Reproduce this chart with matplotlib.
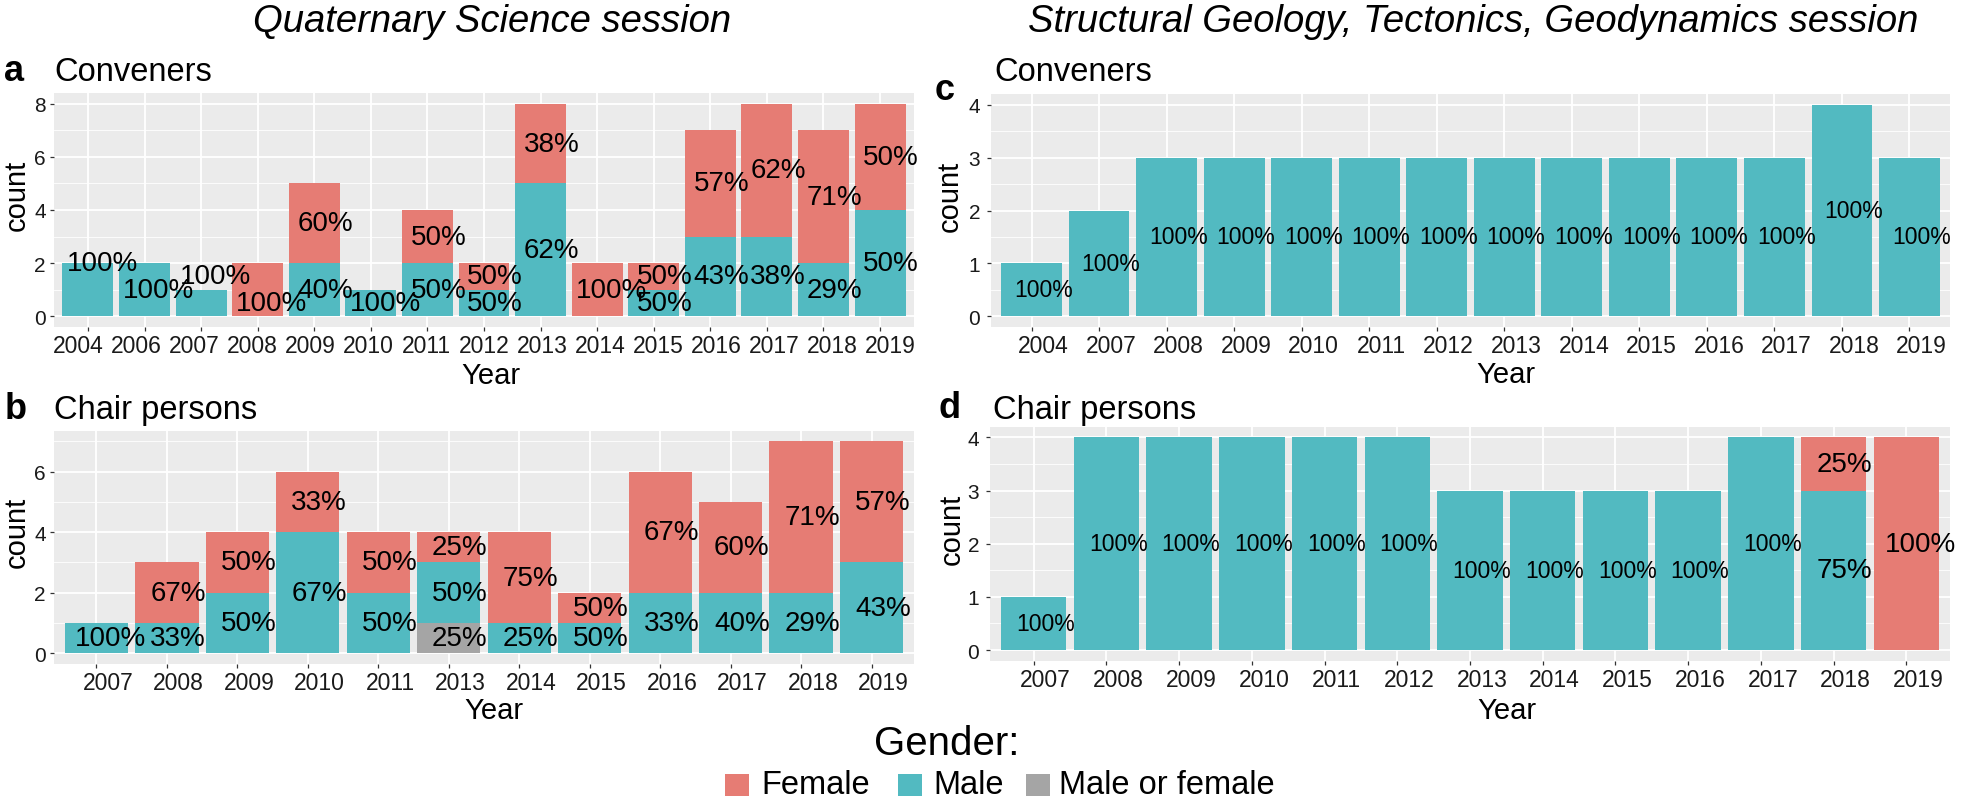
import matplotlib
matplotlib.use("Agg")
import matplotlib.pyplot as plt
from matplotlib.patches import Rectangle
from matplotlib.ticker import MultipleLocator
from matplotlib.transforms import ScaledTranslation
import numpy as np

# ---- data ----
conv_q_years = ["2004", "2006", "2007", "2008", "2009", "2010", "2011", "2012",
                "2013", "2014", "2015", "2016", "2017", "2018", "2019"]
conv_q_male = [2, 2, 1, 0, 2, 1, 2, 1, 5, 0, 1, 3, 3, 2, 4]
conv_q_female = [0, 0, 0, 2, 3, 0, 2, 1, 3, 2, 1, 4, 5, 5, 4]
conv_q_other = [0] * 15
# labels in the original that sit off their segment centre (count units)
conv_q_label_shift = {"2004": 1.0, "2007": 1.0, "2008": -0.5}

chair_q_years = ["2007", "2008", "2009", "2010", "2011", "2013", "2014",
                 "2015", "2016", "2017", "2018", "2019"]
chair_q_male = [1, 1, 2, 4, 2, 2, 1, 1, 2, 2, 2, 3]
chair_q_female = [0, 2, 2, 2, 2, 1, 3, 1, 4, 3, 5, 4]
chair_q_other = [0, 0, 0, 0, 0, 1, 0, 0, 0, 0, 0, 0]

conv_s_years = ["2004", "2007", "2008", "2009", "2010", "2011", "2012", "2013",
                "2014", "2015", "2016", "2017", "2018", "2019"]
conv_s_male = [1, 2, 3, 3, 3, 3, 3, 3, 3, 3, 3, 3, 4, 3]
conv_s_female = [0] * 14
conv_s_other = [0] * 14

chair_s_years = ["2007", "2008", "2009", "2010", "2011", "2012", "2013", "2014",
                 "2015", "2016", "2017", "2018", "2019"]
chair_s_male = [1, 4, 4, 4, 4, 4, 3, 3, 3, 3, 4, 3, 0]
chair_s_female = [0, 0, 0, 0, 0, 0, 0, 0, 0, 0, 0, 1, 4]
chair_s_other = [0] * 13

genders = ["Female", "Male", "Male or female"]

# ---- style ----
SALMON = "#E67C74"
TEAL = "#52BAC1"
GREY = "#A5A5A5"
PANEL_BG = "#EBEBEB"
TXT = "#1A1A1A"

W, H = 1961, 803
plt.rcParams['font.family'] = ['Liberation Sans', 'DejaVu Sans']

fig = plt.figure(figsize=(W / 100, H / 100), dpi=100)


def fx(x):
    return x / W


def fy(y):
    return 1 - y / H


def draw_panel(box, years, male, female, other, ylim, ystep, label_fs,
               shift=None, big_years=(), ytick_pad=3, tick_dx=None):
    l, t, r, b = box
    ax = fig.add_axes([fx(l), fy(b), (r - l) / W, (b - t) / H])
    ax.set_facecolor(PANEL_BG)
    for s in ax.spines.values():
        s.set_visible(False)
    shift = shift or {}

    x = np.arange(len(years))
    male = np.asarray(male)
    female = np.asarray(female)
    other = np.asarray(other)
    total = male + female + other
    bottom = np.zeros(len(years))
    # stacked like ggplot: last factor level at the bottom
    for vals, col in [(other, GREY), (male, TEAL), (female, SALMON)]:
        ax.bar(x, vals, 0.9, bottom=bottom, color=col, linewidth=0, zorder=2)
        for i, v in enumerate(vals):
            if v == 0:
                continue
            pct = f"{round(100 * v / total[i])}%"
            fs = 20 if years[i] in big_years else label_fs
            w_em = 0.556 * (len(pct) - 1) + 0.889
            y = bottom[i] + v / 2 + shift.get(years[i], 0)
            ax.annotate(pct, (x[i], y), xytext=(0.2 * w_em * fs, 0),
                        textcoords="offset points", ha="center", va="center",
                        fontsize=fs, color="black", zorder=3)
        bottom += vals

    ax.set_xlim(-0.6, len(years) - 0.4)
    ax.set_ylim(*ylim)
    ax.set_xticks(x, years)
    ax.yaxis.set_major_locator(MultipleLocator(ystep))
    ax.yaxis.set_minor_locator(MultipleLocator(ystep / 2))
    ax.set_axisbelow(True)
    ax.grid(which="major", color="white", lw=1.3)
    ax.grid(which="minor", axis="y", color="white", lw=0.6)
    ax.tick_params(which="major", length=2.9, width=0.9, color="#333333")
    ax.tick_params(which="minor", length=0)
    ax.tick_params(axis="x", labelsize=16.5, labelcolor=TXT, pad=2)
    ax.tick_params(axis="y", labelsize=15, labelcolor=TXT, pad=ytick_pad)

    for i, lab in enumerate(ax.get_xticklabels()):
        dx = tick_dx(i) if tick_dx else 12
        lab.set_transform(lab.get_transform() +
                          ScaledTranslation(dx / 100, 0, fig.dpi_scale_trans))
    return ax


draw_panel((54, 94, 914, 328), conv_q_years, conv_q_male, conv_q_female,
           conv_q_other, (-0.4, 8.4), 2, 20, shift=conv_q_label_shift,
           tick_dx=lambda i: -9.7 + 1.4 * i)
draw_panel((54, 431.7, 914, 665), chair_q_years, chair_q_male, chair_q_female,
           chair_q_other, (-0.35, 7.35), 2, 20)
draw_panel((991, 95, 1950, 328), conv_s_years, conv_s_male, conv_s_female,
           conv_s_other, (-0.2, 4.2), 1, 16.6, ytick_pad=5)
draw_panel((990, 427.7, 1950, 661.7), chair_s_years, chair_s_male,
           chair_s_female, chair_s_other, (-0.2, 4.2), 1, 16.6,
           big_years=("2018", "2019"), ytick_pad=5)

# session titles
fig.text(fx(492), fy(32), "Quaternary Science session", style="italic",
         fontsize=27.5, ha="center", va="baseline")
fig.text(fx(1473), fy(32), "Structural Geology, Tectonics, Geodynamics session",
         style="italic", fontsize=27.5, ha="center", va="baseline")

# panel letters and subtitles
for letter, lx, ly, sub, sx, sy in [("a", 4, 81, "Conveners", 54, 81),
                                    ("b", 5, 419, "Chair persons", 54, 419),
                                    ("c", 935, 100, "Conveners", 994, 81),
                                    ("d", 938, 418, "Chair persons", 993, 419)]:
    fig.text(fx(lx), fy(ly), letter, fontsize=26, fontweight="bold",
             ha="left", va="baseline")
    fig.text(fx(sx), fy(sy), sub, fontsize=23.5, ha="left", va="baseline")

# axis titles
for xx, yy in [(491, 384), (494, 719), (1506, 383), (1507, 719)]:
    fig.text(fx(xx), fy(yy), "Year", fontsize=21, ha="center", va="baseline")
for xx, yy in [(16.5, 195), (16.5, 532), (950, 196), (952, 529)]:
    fig.text(fx(xx), fy(yy), "count", fontsize=21, rotation=90,
             ha="center", va="center")

# legend
fig.text(fx(947), fy(755), "Gender:", fontsize=29, ha="center", va="baseline")
for name, col, kx, tx in zip(genders, [SALMON, TEAL, GREY],
                             [725, 898, 1026], [761, 933, 1059]):
    fig.add_artist(Rectangle((fx(kx), fy(797)), 24 / W, 22 / H,
                             transform=fig.transFigure, color=col, lw=0))
    fig.text(fx(tx), fy(794), name, fontsize=23.5, ha="left", va="baseline")

fig.savefig("out.png", dpi=100)
